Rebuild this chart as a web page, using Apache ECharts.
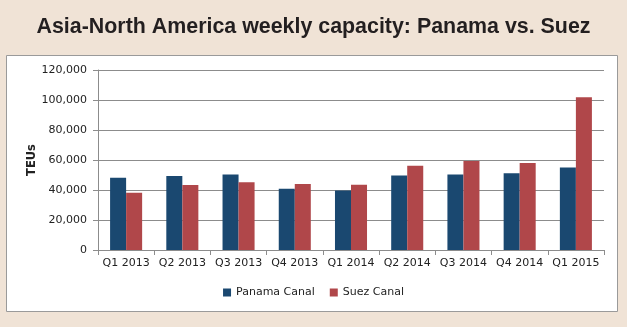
<!DOCTYPE html>
<html>
<head>
<meta charset="utf-8">
<script src="https://cdn.jsdelivr.net/npm/echarts@6/dist/echarts.min.js"></script>
<style>
html,body{margin:0;padding:0;background:#f0e3d6;}
#c{width:627px;height:327px;}
</style>
</head>
<body>
<div id="c"></div>
<script>
var categories = ['Q1 2013','Q2 2013','Q3 2013','Q4 2013','Q1 2014','Q2 2014','Q3 2014','Q4 2014','Q1 2015'];
var panama = [48200, 49300, 50300, 40800, 39700, 49700, 50300, 51100, 55000];
var suez = [38100, 43300, 45100, 44000, 43500, 56200, 59300, 58000, 101800];
var yTicks = [0, 20000, 40000, 60000, 80000, 100000, 120000];

var chart = echarts.init(document.getElementById('c'), null, {renderer:'canvas'});
var labelFont = 'DejaVu Sans';
chart.setOption({
  backgroundColor: '#f0e3d6',
  animation: false,
  title: {
    text: 'Asia-North America weekly capacity: Panama vs. Suez',
    left: 'center',
    top: 12,
    textStyle: {fontFamily: 'Liberation Sans', fontWeight: 'bold', fontSize: 21.4, color: '#231f20'}
  },
  graphic: [{
    type: 'rect', z: -10,
    shape: {x: 6.5, y: 55.5, width: 611, height: 256},
    style: {fill: '#ffffff', stroke: '#9a9a9a', lineWidth: 1}
  }],
  legend: {
    bottom: 24,
    left: 'center',
    itemWidth: 8, itemHeight: 8, itemGap: 15,
    icon: 'rect',
    textStyle: {fontFamily: labelFont, fontSize: 11, color: '#222'},
    data: ['Panama Canal', 'Suez Canal']
  },
  grid: {left: 98, right: 23, top: 70, bottom: 77},
  xAxis: {
    type: 'category',
    data: categories,
    axisLine: {lineStyle: {color: '#8c8c8c'}},
    axisTick: {show: true, length: 5, lineStyle: {color: '#8c8c8c'}},
    axisLabel: {fontFamily: labelFont, fontSize: 11, color: '#222', margin: 8, interval: 0}
  },
  yAxis: {
    type: 'value',
    min: yTicks[0], max: yTicks[yTicks.length-1], interval: 20000,
    name: 'TEUs', nameLocation: 'middle', nameGap: 60, nameMoveOverlap: false,
    nameTextStyle: {fontFamily: labelFont, fontWeight: 'bold', fontSize: 11.5, color: '#222'},
    axisLine: {show: true, lineStyle: {color: '#8c8c8c'}},
    axisTick: {show: true, length: 5, lineStyle: {color: '#8c8c8c'}},
    splitLine: {lineStyle: {color: '#8c8c8c'}},
    axisLabel: {
      fontFamily: labelFont, fontSize: 11, color: '#222', margin: 11,
      formatter: function(v){ return v.toLocaleString('en-US'); }
    }
  },
  series: [
    {name: 'Panama Canal', type: 'bar', data: panama, barGap: '0%', barCategoryGap: '43%',
     itemStyle: {color: '#1a4870'}},
    {name: 'Suez Canal', type: 'bar', data: suez, barGap: '0%', barCategoryGap: '43%',
     itemStyle: {color: '#b0474a'}}
  ]
});
</script>
</body>
</html>
